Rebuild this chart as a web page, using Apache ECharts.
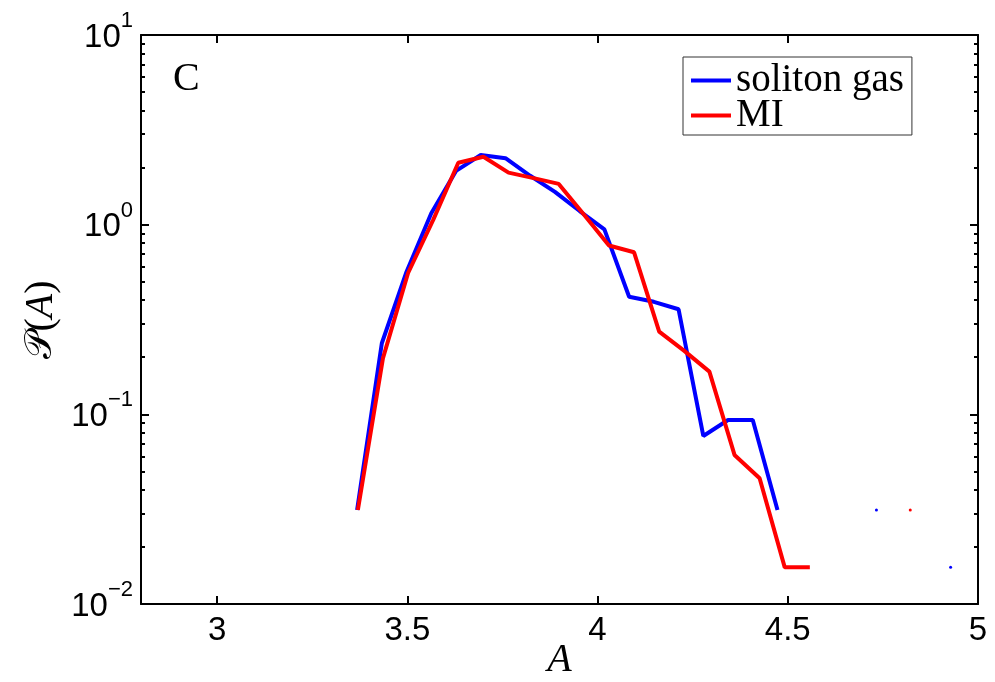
<!DOCTYPE html>
<html>
<head>
<meta charset="utf-8">
<script src="https://cdn.jsdelivr.net/npm/echarts@6/dist/echarts.min.js"></script>
<style>
html,body{margin:0;padding:0;background:#fff;}
#chart{width:995px;height:682px;}
</style>
</head>
<body>
<div id="chart"></div>
<script>
// ---- data ----
const blueName = 'soliton gas';
const redName = 'MI';
const blueA = [3.368, 3.433, 3.498, 3.563, 3.628, 3.693, 3.758, 3.823, 3.888, 3.953, 4.018, 4.083, 4.148, 4.213, 4.278, 4.343, 4.408, 4.473, 4.538, 4.603, 4.668, 4.733, 4.798, 4.863, 4.928];
const blueP = [0.0313, 0.237, 0.565, 1.15, 1.92, 2.33, 2.24, 1.81, 1.49, 1.18, 0.944, 0.417, 0.392, 0.358, 0.0769, 0.0934, 0.0934, 0.0313, null, null, null, 0.0313, null, null, 0.0156];
const redA = [3.370, 3.436, 3.502, 3.568, 3.634, 3.700, 3.766, 3.832, 3.898, 3.964, 4.030, 4.096, 4.162, 4.228, 4.294, 4.360, 4.426, 4.492, 4.558, 4.624, 4.690, 4.756, 4.822];
const redP = [0.0313, 0.198, 0.556, 1.06, 2.12, 2.28, 1.88, 1.76, 1.64, 1.13, 0.777, 0.715, 0.273, 0.216, 0.168, 0.0611, 0.046, 0.0156, 0.0156, null, null, null, 0.0313];
const xTicks = [3, 3.5, 4, 4.5, 5];
const xTickLabels = ['3', '3.5', '4', '4.5', '5'];
const yMajor = [0.01, 0.1, 1, 10];
const yExpLabels = ['\u22122', '\u22121', '0', '1'];
const yMinor = [0.02, 0.03, 0.04, 0.05, 0.06, 0.07, 0.08, 0.09, 0.2, 0.3, 0.4, 0.5, 0.6, 0.7, 0.8, 0.9, 2, 3, 4, 5, 6, 7, 8, 9];
const panelLabel = 'C';

function pairs(a, p) { return a.map((x, i) => [x, p[i] == null ? '-' : p[i]]); }
function isolated(p) {
  return p.map((v, i) => v != null && (i === 0 || p[i - 1] == null) && (i === p.length - 1 || p[i + 1] == null));
}
const blueIso = isolated(blueP), redIso = isolated(redP);

const chart = echarts.init(document.getElementById('chart'), null, {renderer: 'canvas'});
const black = '#000';
const sans = 'Liberation Sans';
const serif = 'Liberation Serif';

function xAx(pos, main) {
  return {
    type: 'value', min: 2.8, max: 5, position: pos,
    axisLine: {show: true, onZero: false, lineStyle: {color: black, width: 2}},
    axisTick: {show: true, inside: true, length: 8, lineStyle: {color: black, width: 2}, customValues: xTicks},
    axisLabel: {show: main, customValues: xTicks, color: black, fontFamily: sans, fontSize: 33, margin: 10,
      formatter: v => xTickLabels[xTicks.indexOf(v)] ?? String(v)},
    splitLine: {show: false},
    name: main ? 'A' : '', nameLocation: 'middle', nameGap: 36, nameMoveOverlap: false,
    nameTextStyle: {fontFamily: serif, fontStyle: 'italic', fontSize: 40, color: black}
  };
}
function yAx(pos, major, label) {
  return {
    type: 'log', logBase: 10, min: 0.01, max: 10, position: pos,
    axisLine: {show: major, onZero: false, lineStyle: {color: black, width: 2}},
    axisTick: {show: true, inside: true, length: major ? 8 : 4, lineStyle: {color: black, width: 2},
      customValues: major ? yMajor : yMinor},
    axisLabel: {show: label, customValues: yMajor, margin: 8,
      formatter: v => {
        const i = yMajor.findIndex(m => Math.abs(m - v) / m < 1e-6);
        return '{b|10}{e|' + (i >= 0 ? yExpLabels[i] : '') + '}';
      },
      rich: {
        b: {fontFamily: sans, fontSize: 33, height: 33, color: black, verticalAlign: 'bottom', padding: [11, 0, 6, 0]},
        e: {fontFamily: sans, fontSize: 22, height: 22, color: black, verticalAlign: 'top'}
      }},
    splitLine: {show: false}, minorTick: {show: false},
    name: label ? '{p|\uD835\uDCAB}{r|(}{i|A}{r|)}' : '', nameLocation: 'middle', nameRotate: 90, nameGap: 80,
    nameMoveOverlap: false,
    nameTextStyle: {fontStyle: 'italic', rich: {
      p: {fontFamily: 'DejaVu Serif', fontStyle: 'normal', fontSize: 38, color: black},
      r: {fontFamily: serif, fontStyle: 'normal', fontSize: 40, color: black},
      i: {fontFamily: serif, fontStyle: 'italic', fontSize: 40, color: black}
    }}
  };
}

function lineSeries(name, a, p, iso, color) {
  return {
    name: name, type: 'line', xAxisIndex: 0, yAxisIndex: 0,
    data: pairs(a, p), connectNulls: false,
    symbol: 'circle', showSymbol: true, showAllSymbol: true,
    symbolSize: (val, params) => iso[params.dataIndex] ? 3 : 0,
    itemStyle: {color: color}, lineStyle: {color: color, width: 4},
    emphasis: {disabled: true}, z: name === redName ? 3 : 2
  };
}

chart.setOption({
  animation: false,
  backgroundColor: '#fff',
  grid: {left: 141, right: 17, top: 35, bottom: 78, outerBoundsMode: 'none', containLabel: false},
  title: {text: panelLabel, left: 173, top: 59, padding: 0, textStyle: {fontFamily: serif, fontWeight: 'normal', fontSize: 40, color: black}},
  legend: {
    data: [blueName, redName], orient: 'vertical', left: 683, top: 57,
    icon: 'rect', itemWidth: 40, itemHeight: 4, itemGap: -4,
    padding: [4, 8, 0, 8], borderColor: '#333', borderWidth: 1, backgroundColor: '#fff',
    textStyle: {fontFamily: serif, fontSize: 39, color: black},
    selectedMode: false
  },
  xAxis: [xAx('bottom', true), xAx('top', false)],
  yAxis: [yAx('left', true, true), yAx('left', false, false), yAx('right', true, false), yAx('right', false, false)],
  series: [
    lineSeries(blueName, blueA, blueP, blueIso, '#0000ff'),
    lineSeries(redName, redA, redP, redIso, '#ff0000')
  ]
});
</script>
</body>
</html>
